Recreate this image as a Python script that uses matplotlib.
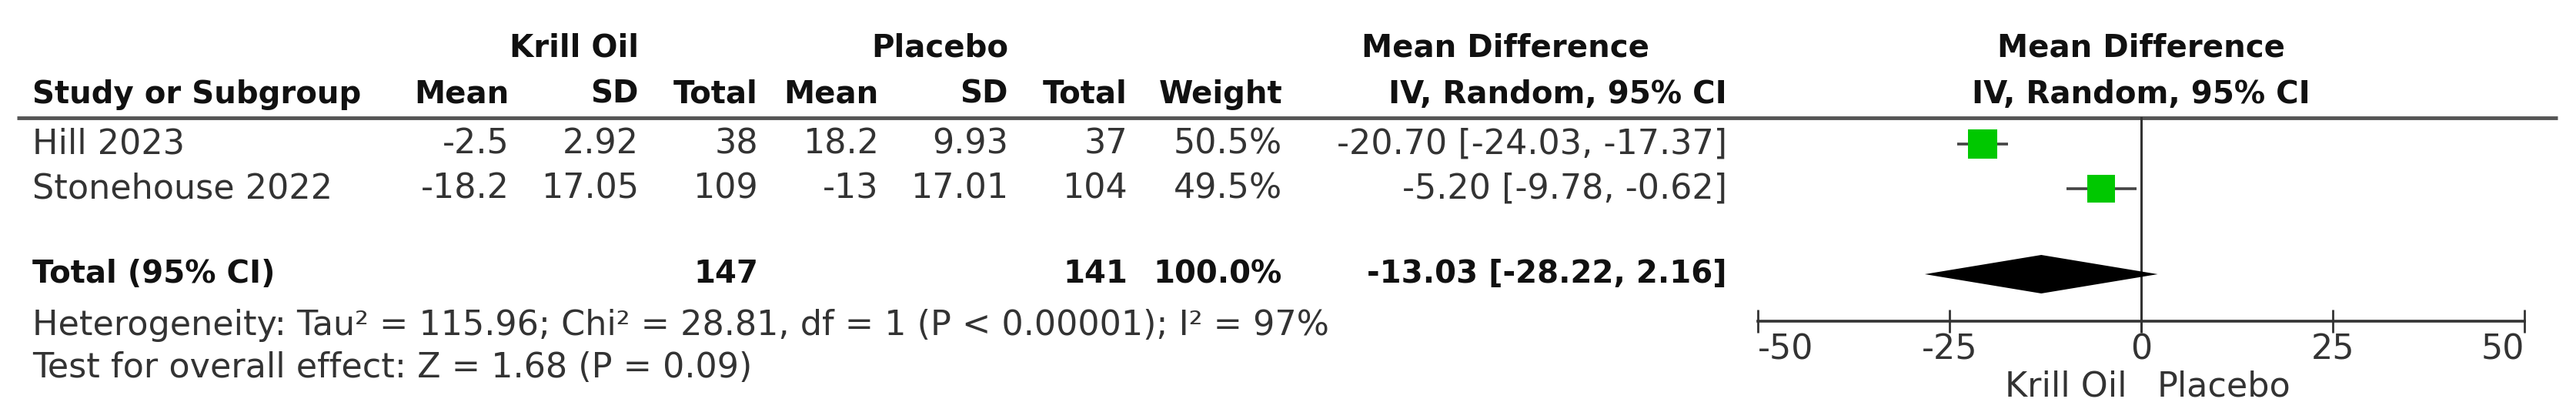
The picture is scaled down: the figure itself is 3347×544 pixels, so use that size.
import matplotlib
matplotlib.use("Agg")
import matplotlib.pyplot as plt

# ---------------------------------------------------------------
# Data
# ---------------------------------------------------------------
studies = ["Hill 2023", "Stonehouse 2022"]
krill_mean = [-2.5, -18.2]
krill_sd = [2.92, 17.05]
krill_n = [38, 109]
placebo_mean = [18.2, -13]
placebo_sd = [9.93, 17.01]
placebo_n = [37, 104]
weights = [50.5, 49.5]
md = [-20.70, -5.20]
ci_low = [-24.03, -9.78]
ci_high = [-17.37, -0.62]

total_label = "Total (95% CI)"
total_krill_n = 147
total_placebo_n = 141
total_weight = 100.0
total_md = -13.03
total_low = -28.22
total_high = 2.16

het_text = "Heterogeneity: Tau\u00b2 = 115.96; Chi\u00b2 = 28.81, df = 1 (P < 0.00001); I\u00b2 = 97%"
test_text = "Test for overall effect: Z = 1.68 (P = 0.09)"

axis_ticks = [-50, -25, 0, 25, 50]
favours_left = "Krill Oil"
favours_right = "Placebo"

# ---------------------------------------------------------------
# Layout (pixels, figure is 3347 x 544)
# ---------------------------------------------------------------
W, H = 3347, 544
DPI = 100
FS = 32      # regular text
FS_B = 29    # bold text

plt.rcParams["font.family"] = ["DejaVu Sans"]
plt.rcParams["axes.unicode_minus"] = False

TXT = "#333333"
BLD = "#111111"
LINE = "#555555"
GREEN = "#00c800"

y_group = 63
y_head = 123
y_rule = 153
y_rows = [187, 245]
y_total = 356
y_het = 423
y_test = 478
y_axis = 417
y_fav = 502

x_study = 42
col_right = {
    "k_mean": 662, "k_sd": 830, "k_n": 985,
    "p_mean": 1142, "p_sd": 1310, "p_n": 1465,
    "weight": 1666, "md": 2244,
}


def fmt(v):
    return f"{v:g}"


fig = plt.figure(figsize=(W / DPI, H / DPI), dpi=DPI)
fig.patch.set_facecolor("white")

# table axes in pixel coordinates
ax = fig.add_axes([0, 0, 1, 1])
ax.set_xlim(0, W)
ax.set_ylim(H, 0)
ax.axis("off")


def put(x, y, s, ha="right", bold=False):
    ax.text(x, y, s, ha=ha, va="center",
            fontsize=FS_B if bold else FS,
            fontweight="bold" if bold else "normal",
            color=BLD if bold else TXT)


# group headers
put(col_right["k_sd"], y_group, "Krill Oil", bold=True)
put(col_right["p_sd"], y_group, "Placebo", bold=True)
put(1956, y_group, "Mean Difference", ha="center", bold=True)

# column headers
put(x_study, y_head, "Study or Subgroup", ha="left", bold=True)
for key, name in [("k_mean", "Mean"), ("k_sd", "SD"), ("k_n", "Total"),
                  ("p_mean", "Mean"), ("p_sd", "SD"), ("p_n", "Total"),
                  ("weight", "Weight"), ("md", "IV, Random, 95% CI")]:
    put(col_right[key], y_head, name, bold=True)

ax.plot([22, 3323], [y_rule, y_rule], color=LINE, lw=3.5, solid_capstyle="butt")

# study rows
for i, name in enumerate(studies):
    y = y_rows[i]
    put(x_study, y, name, ha="left")
    put(col_right["k_mean"], y, fmt(krill_mean[i]))
    put(col_right["k_sd"], y, fmt(krill_sd[i]))
    put(col_right["k_n"], y, str(krill_n[i]))
    put(col_right["p_mean"], y, fmt(placebo_mean[i]))
    put(col_right["p_sd"], y, fmt(placebo_sd[i]))
    put(col_right["p_n"], y, str(placebo_n[i]))
    put(col_right["weight"], y, f"{weights[i]:.1f}%")
    put(col_right["md"], y, f"{md[i]:.2f} [{ci_low[i]:.2f}, {ci_high[i]:.2f}]")

# total row
put(x_study, y_total, total_label, ha="left", bold=True)
put(col_right["k_n"], y_total, str(total_krill_n), bold=True)
put(col_right["p_n"], y_total, str(total_placebo_n), bold=True)
put(col_right["weight"], y_total, f"{total_weight:.1f}%", bold=True)
put(col_right["md"], y_total, f"{total_md:.2f} [{total_low:.2f}, {total_high:.2f}]", bold=True)

put(x_study, y_het, het_text, ha="left")
put(x_study, y_test, test_text, ha="left")

# ---------------------------------------------------------------
# Forest plot axes: x in mean-difference units
# ---------------------------------------------------------------
x0_px, x1_px = 2284, 3280
fax = fig.add_axes([x0_px / W, 0, (x1_px - x0_px) / W, 1])
fax.set_xlim(axis_ticks[0], axis_ticks[-1])
fax.set_ylim(H, 0)
fax.patch.set_alpha(0)
for side in ["top", "left", "right"]:
    fax.spines[side].set_visible(False)
fax.spines["bottom"].set_position(("data", y_axis))
fax.spines["bottom"].set_bounds(axis_ticks[0], axis_ticks[-1])
fax.spines["bottom"].set_linewidth(2.6)
fax.spines["bottom"].set_color("#333333")
fax.set_yticks([])
fax.set_xticks(axis_ticks)
fax.set_xticklabels([str(t) for t in axis_ticks])
fax.tick_params(axis="x", direction="inout", length=22, width=2.0,
                color="#333333", labelsize=FS, labelcolor=TXT, pad=0)
labels = fax.get_xticklabels()
labels[0].set_horizontalalignment("left")
labels[-1].set_horizontalalignment("right")

fax.text(0, y_group, "Mean Difference", ha="center", va="center",
         fontsize=FS_B, fontweight="bold", color=BLD)
fax.text(0, y_head, "IV, Random, 95% CI", ha="center", va="center",
         fontsize=FS_B, fontweight="bold", color=BLD)

# line of no effect
fax.plot([0, 0], [y_rule, y_axis + 13], color="#333333", lw=2.2)

# study estimates
for i in range(len(studies)):
    y = y_rows[i]
    fax.plot([ci_low[i], ci_high[i]], [y, y], color="#444444", lw=2.6,
             solid_capstyle="butt", zorder=3)
    side = weights[i] * 0.53
    fax.plot(md[i], y, marker="s", ms=side, color=GREEN,
             markeredgewidth=0, zorder=4)

# pooled diamond
half = 25
fax.fill([total_low, total_md, total_high, total_md],
         [y_total, y_total - half, y_total, y_total + half],
         color="black", lw=0, zorder=4)

fax.text(-1.9, y_fav, favours_left, ha="right", va="center",
         fontsize=FS, color=TXT)
fax.text(2.1, y_fav, favours_right, ha="left", va="center",
         fontsize=FS, color=TXT)

fig.savefig("out.png", dpi=DPI, facecolor="white")
